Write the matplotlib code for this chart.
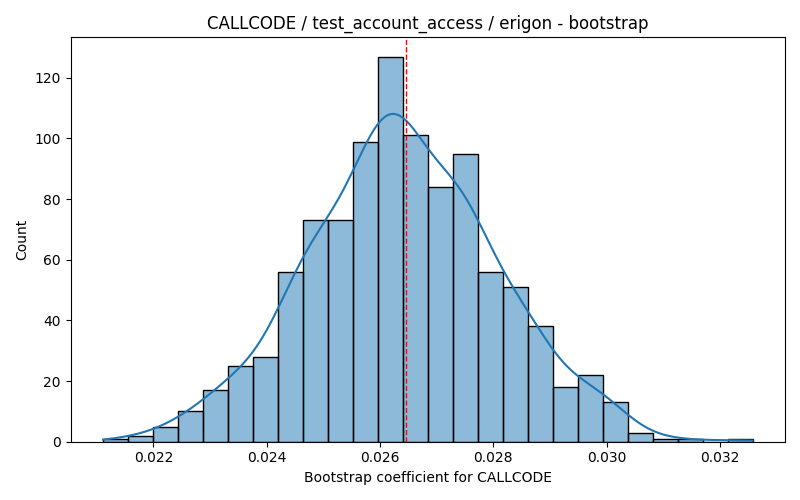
import numpy as np
import matplotlib
matplotlib.use("Agg")
import matplotlib.pyplot as plt
import seaborn as sns

# histogram: 26 equal bins
bin_lo = 0.021114
bin_hi = 0.032574
counts = [1, 2, 5, 10, 17, 25, 28, 56, 73, 73, 99, 127, 101,
          84, 95, 56, 51, 38, 18, 22, 13, 3, 1, 1, 0, 1]
mean_value = 0.02646

edges = np.linspace(bin_lo, bin_hi, len(counts) + 1)
centers = (edges[:-1] + edges[1:]) / 2

fig, ax = plt.subplots(figsize=(8, 5), dpi=100)
# weighted KDE uses the effective sample size, so shrink the bandwidth
# back to what 1000 raw samples would give
sns.histplot(x=centers, weights=np.array(counts, dtype=float),
             bins=len(counts), binrange=(bin_lo, bin_hi), kde=True,
             kde_kws=dict(bw_adjust=0.43, cut=3, clip=(bin_lo, bin_hi)),
             ax=ax)
ax.axvline(mean_value, color="red", linestyle="--", linewidth=1)

ax.set_title("CALLCODE / test_account_access / erigon - bootstrap")
ax.set_xlabel("Bootstrap coefficient for CALLCODE")
ax.set_ylabel("Count")
fig.tight_layout()
fig.savefig("out.png")
